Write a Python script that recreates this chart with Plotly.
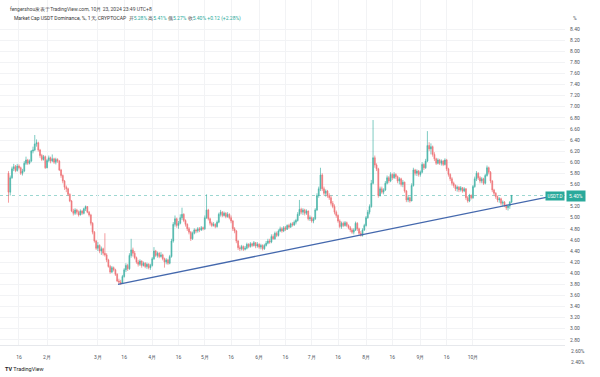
import pandas as pd
import plotly.graph_objects as go

# ---------------- data ----------------
START_DATE = "2024-01-10"
FIRST_OPEN = 5.80

CLOSE_JAN = [5.46, 5.72, 5.88, 5.92, 5.85, 5.93, 5.90, 5.80, 5.84, 5.98, 6.04, 5.98, 6.02, 6.20, 6.22, 6.33, 6.35, 6.22, 6.12, 6.05, 6.10, 5.90]
HIGH_JAN = [5.84, 5.76, 5.92, 5.97, 5.95, 5.97, 5.96, 5.92, 5.88, 6.02, 6.10, 6.06, 6.05, 6.22, 6.28, 6.49, 6.41, 6.37, 6.24, 6.15, 6.13, 6.12]
LOW_JAN = [5.27, 5.40, 5.70, 5.84, 5.82, 5.83, 5.87, 5.77, 5.76, 5.82, 5.95, 5.95, 5.96, 6.00, 6.16, 6.20, 6.28, 6.19, 6.08, 6.02, 6.03, 5.88]

CLOSE_FEB = [6.03, 6.08, 6.02, 6.06, 6.00, 6.05, 6.02, 5.86, 5.76, 5.66, 5.55, 5.52, 5.42, 5.30, 5.12, 5.08, 5.14, 5.10, 5.05, 5.12, 5.08, 5.16, 5.20, 5.10, 5.05, 4.90, 4.74, 4.58, 4.45]
HIGH_FEB = [6.06, 6.12, 6.10, 6.14, 6.08, 6.08, 6.07, 6.04, 5.88, 5.78, 5.68, 5.58, 5.54, 5.44, 5.32, 5.16, 5.17, 5.16, 5.13, 5.15, 5.14, 5.18, 5.22, 5.21, 5.12, 5.07, 4.92, 4.76, 4.60]
LOW_FEB = [5.89, 6.00, 5.98, 6.00, 5.97, 5.96, 5.99, 5.84, 5.72, 5.62, 5.50, 5.46, 5.39, 5.28, 5.10, 5.04, 5.05, 5.06, 5.02, 5.04, 5.05, 5.06, 5.12, 5.08, 5.02, 4.86, 4.70, 4.55, 4.42]

CLOSE_MAR = [4.50, 4.40, 4.44, 4.36, 4.33, 4.24, 4.12, 4.02, 4.10, 4.06, 3.98, 3.86, 3.84, 3.82, 3.94, 4.06, 4.14, 4.08, 4.32, 4.42, 4.36, 4.28, 4.20, 4.16, 4.22, 4.14, 4.18, 4.12, 4.16, 4.10, 4.14]
HIGH_MAR = [4.56, 4.52, 4.48, 4.46, 4.72, 4.36, 4.26, 4.15, 4.13, 4.12, 4.08, 4.00, 3.90, 3.88, 3.97, 4.09, 4.18, 4.17, 4.36, 4.62, 4.46, 4.40, 4.30, 4.24, 4.25, 4.23, 4.21, 4.20, 4.19, 4.18, 4.17]
LOW_MAR = [4.40, 4.36, 4.33, 4.32, 4.30, 4.20, 4.10, 3.99, 4.00, 4.03, 3.95, 3.84, 3.80, 3.79, 3.81, 3.92, 4.02, 4.04, 4.06, 4.28, 4.30, 4.25, 4.17, 4.12, 4.13, 4.10, 4.12, 4.09, 4.08, 4.07, 4.06]

CLOSE_APR = [4.26, 4.40, 4.32, 4.36, 4.30, 4.33, 4.26, 4.20, 4.24, 4.18, 4.30, 4.58, 4.88, 4.98, 4.86, 4.90, 5.00, 5.06, 4.95, 4.88, 4.80, 4.74, 4.62, 4.72, 4.78, 4.76, 4.80, 4.78, 4.82, 4.80]
HIGH_APR = [4.29, 4.47, 4.42, 4.39, 4.38, 4.38, 4.35, 4.28, 4.27, 4.26, 4.33, 4.62, 4.92, 5.04, 5.00, 4.94, 5.06, 5.18, 5.08, 4.97, 4.90, 4.83, 4.76, 4.75, 4.81, 4.80, 4.83, 4.83, 4.85, 4.84]
LOW_APR = [4.12, 4.24, 4.29, 4.28, 4.27, 4.28, 4.23, 4.10, 4.16, 4.15, 4.16, 4.28, 4.55, 4.84, 4.82, 4.80, 4.88, 4.96, 4.92, 4.84, 4.76, 4.70, 4.58, 4.60, 4.70, 4.72, 4.73, 4.74, 4.76, 4.77]

CLOSE_MAY = [5.00, 5.14, 4.98, 4.90, 4.86, 4.88, 4.84, 4.92, 5.06, 5.10, 5.04, 5.08, 5.02, 5.06, 5.00, 4.94, 4.80, 4.76, 4.58, 4.46, 4.44, 4.48, 4.43, 4.45, 4.52, 4.48, 4.53, 4.50, 4.55, 4.49, 4.52]
HIGH_MAY = [5.04, 5.42, 5.16, 5.00, 4.93, 4.92, 4.90, 4.95, 5.09, 5.14, 5.12, 5.11, 5.10, 5.10, 5.08, 5.04, 4.96, 4.83, 4.78, 4.60, 4.50, 4.51, 4.50, 4.49, 4.55, 4.54, 4.56, 4.55, 4.58, 4.56, 4.56]
LOW_MAY = [4.78, 4.98, 4.95, 4.86, 4.83, 4.84, 4.81, 4.82, 4.90, 5.02, 5.01, 5.02, 4.99, 5.00, 4.97, 4.90, 4.76, 4.72, 4.54, 4.42, 4.40, 4.41, 4.40, 4.41, 4.43, 4.45, 4.46, 4.47, 4.48, 4.45, 4.46]

CLOSE_JUN = [4.47, 4.50, 4.44, 4.50, 4.54, 4.58, 4.56, 4.66, 4.62, 4.72, 4.68, 4.76, 4.80, 4.76, 4.82, 4.79, 4.86, 4.83, 4.89, 4.87, 4.92, 4.95, 5.06, 5.15, 5.10, 5.14, 5.08, 5.12, 4.98, 5.00]
HIGH_JUN = [4.54, 4.53, 4.52, 4.53, 4.58, 4.62, 4.62, 4.70, 4.70, 4.75, 4.75, 4.79, 4.84, 4.83, 4.85, 4.85, 4.88, 4.89, 4.91, 4.92, 4.95, 4.98, 5.10, 5.32, 5.18, 5.17, 5.16, 5.15, 5.13, 5.04]
LOW_JUN = [4.44, 4.43, 4.41, 4.42, 4.48, 4.52, 4.53, 4.54, 4.60, 4.60, 4.65, 4.66, 4.74, 4.73, 4.74, 4.76, 4.78, 4.80, 4.82, 4.84, 4.85, 4.88, 4.93, 5.03, 5.06, 5.05, 5.04, 5.05, 4.95, 4.94]

CLOSE_JUL = [4.94, 4.98, 5.14, 5.40, 5.52, 5.77, 5.52, 5.44, 5.48, 5.40, 5.36, 5.26, 5.20, 5.10, 5.04, 4.94, 4.84, 4.90, 4.86, 4.91, 4.86, 4.82, 4.78, 4.74, 4.78, 4.90, 4.80, 4.72, 4.68, 4.78, 4.86]
HIGH_JUL = [5.02, 5.01, 5.17, 5.44, 5.56, 5.90, 5.80, 5.56, 5.51, 5.50, 5.44, 5.40, 5.30, 5.24, 5.13, 5.06, 4.97, 4.93, 4.93, 4.94, 4.93, 4.88, 4.85, 4.81, 4.81, 4.93, 4.92, 4.82, 4.76, 4.81, 4.89]
LOW_JUL = [4.91, 4.90, 4.96, 5.12, 5.36, 5.48, 5.48, 5.40, 5.38, 5.36, 5.32, 5.22, 5.17, 5.06, 5.00, 4.91, 4.81, 4.80, 4.83, 4.84, 4.83, 4.79, 4.74, 4.71, 4.70, 4.76, 4.76, 4.69, 4.66, 4.66, 4.76]

CLOSE_AUG = [5.00, 5.10, 5.20, 5.62, 6.08, 5.95, 5.88, 5.40, 5.52, 5.46, 5.50, 5.62, 5.72, 5.66, 5.78, 5.72, 5.78, 5.74, 5.66, 5.70, 5.60, 5.64, 5.48, 5.32, 5.36, 5.30, 5.58, 5.86, 5.80, 5.84, 5.78]
HIGH_AUG = [5.03, 5.14, 5.24, 5.68, 6.76, 6.12, 5.98, 5.90, 5.56, 5.56, 5.53, 5.66, 5.76, 5.75, 5.82, 5.80, 5.82, 5.80, 5.76, 5.73, 5.72, 5.68, 5.65, 5.50, 5.40, 5.38, 5.62, 5.90, 5.88, 5.87, 5.86]
LOW_AUG = [4.84, 4.98, 5.06, 5.18, 5.60, 5.90, 5.84, 5.36, 5.38, 5.43, 5.42, 5.48, 5.60, 5.62, 5.64, 5.68, 5.70, 5.70, 5.62, 5.60, 5.56, 5.55, 5.45, 5.28, 5.28, 5.27, 5.30, 5.56, 5.76, 5.75, 5.74]

CLOSE_SEP = [5.82, 5.96, 5.90, 6.02, 6.30, 6.24, 6.28, 6.14, 6.06, 5.98, 6.04, 5.98, 6.02, 5.96, 6.04, 5.88, 5.78, 5.70, 5.62, 5.58, 5.52, 5.55, 5.50, 5.54, 5.48, 5.52, 5.36, 5.30, 5.40, 5.36]
HIGH_SEP = [5.85, 6.00, 5.98, 6.06, 6.56, 6.36, 6.34, 6.30, 6.18, 6.08, 6.07, 6.06, 6.05, 6.04, 6.07, 6.06, 5.90, 5.80, 5.73, 5.65, 5.60, 5.58, 5.57, 5.57, 5.55, 5.55, 5.53, 5.39, 5.43, 5.42]
LOW_SEP = [5.74, 5.80, 5.86, 5.88, 6.00, 6.20, 6.14, 6.10, 6.02, 5.95, 5.96, 5.95, 5.94, 5.93, 5.94, 5.84, 5.74, 5.66, 5.58, 5.54, 5.48, 5.47, 5.46, 5.47, 5.45, 5.46, 5.32, 5.27, 5.28, 5.33]

CLOSE_OCT = [5.56, 5.70, 5.80, 5.72, 5.66, 5.70, 5.62, 5.76, 5.90, 5.82, 5.66, 5.50, 5.44, 5.38, 5.32, 5.34, 5.26, 5.28, 5.22, 5.18, 5.21, 5.28, 5.40]
HIGH_OCT = [5.59, 5.74, 5.84, 5.82, 5.75, 5.73, 5.72, 5.79, 5.94, 5.92, 5.84, 5.68, 5.52, 5.46, 5.40, 5.37, 5.36, 5.31, 5.30, 5.24, 5.24, 5.30, 5.41]
LOW_OCT = [5.34, 5.54, 5.66, 5.68, 5.62, 5.62, 5.59, 5.60, 5.74, 5.78, 5.62, 5.46, 5.40, 5.34, 5.28, 5.27, 5.22, 5.20, 5.19, 5.14, 5.13, 5.16, 5.27]

TREND_DATES = ["2024-03-12 12:00", "2024-11-13 21:00"]
TREND_VALUES = [3.80, 5.38]

LAST_PRICE = 5.40
LAST_PRICE_TEXT = "5.40%"

X_TICK_DATES = ["2024-01-16", "2024-02-01", "2024-03-01", "2024-03-16", "2024-04-01", "2024-04-16",
                "2024-05-01", "2024-05-16", "2024-06-01", "2024-06-16", "2024-07-01", "2024-07-16",
                "2024-08-01", "2024-08-16", "2024-09-01", "2024-09-16", "2024-10-01"]
X_TICK_TEXT = ["16", "2月", "3月", "16", "4月", "16", "5月", "16", "6月", "16", "7月", "16",
               "8月", "16", "9月", "16", "10月"]
# 5.40% is hidden behind the last-price tag in the reference
Y_TICKS = [2.8, 3.0, 3.2, 3.4, 3.6, 3.8, 4.0, 4.2, 4.4, 4.6, 4.8, 5.0, 5.2, 5.6, 5.8,
           6.0, 6.2, 6.4, 6.6, 6.8, 7.0, 7.2, 7.4, 7.6, 7.8, 8.0, 8.2, 8.4]
Y_TICKS_BELOW = [2.6, 2.4]

HEADER_1 = "fengershou发表于TradingView.com, 10月 23, 2024 23:49 UTC+8"
HEADER_2_NAME = "Market Cap USDT Dominance, %, 1天, CRYPTOCAP"
OHLC_LABELS = ["开", "高", "低", "收"]
OHLC_VALUES = ["5.28%", "5.41%", "5.27%", "5.40%"]
CHANGE_TEXT = "+0.12 (+2.28%)"

# ---------------- assemble ----------------
closes = (CLOSE_JAN + CLOSE_FEB + CLOSE_MAR + CLOSE_APR + CLOSE_MAY + CLOSE_JUN +
          CLOSE_JUL + CLOSE_AUG + CLOSE_SEP + CLOSE_OCT)
highs = (HIGH_JAN + HIGH_FEB + HIGH_MAR + HIGH_APR + HIGH_MAY + HIGH_JUN +
         HIGH_JUL + HIGH_AUG + HIGH_SEP + HIGH_OCT)
lows = (LOW_JAN + LOW_FEB + LOW_MAR + LOW_APR + LOW_MAY + LOW_JUN +
        LOW_JUL + LOW_AUG + LOW_SEP + LOW_OCT)
opens = [FIRST_OPEN] + closes[:-1]
dates = pd.date_range(START_DATE, periods=len(closes), freq="D")

GREEN = "#2aa99b"
RED = "#ec5d62"
TEXT = "#505560"
FONT = "Roboto, Liberation Sans, Arial, sans-serif"

W, H = 600, 377
M_L, M_R, M_T, M_B = 0, 35, 0, 32
PLOT_W = W - M_L - M_R
PLOT_H = H - M_T - M_B
Y_RANGE = [2.7063, 8.9225]
X_RANGE = ["2024-01-05 04:00", "2024-11-22 12:00"]

fig = go.Figure()

fig.add_trace(go.Candlestick(
    x=dates, open=opens, high=highs, low=lows, close=closes,
    increasing=dict(line=dict(color=GREEN, width=0.7), fillcolor=GREEN),
    decreasing=dict(line=dict(color=RED, width=0.7), fillcolor=RED),
    whiskerwidth=0, opacity=0.85, hoverinfo="skip", showlegend=False,
))

# trend line
fig.add_trace(go.Scatter(
    x=TREND_DATES, y=TREND_VALUES, mode="lines",
    line=dict(color="#4468ad", width=1.3), hoverinfo="skip", showlegend=False,
))

# last price dotted line
fig.add_shape(type="line", xref="paper", x0=0, x1=1, yref="y", y0=LAST_PRICE, y1=LAST_PRICE,
              line=dict(color="rgba(38,166,154,0.45)", width=1, dash="dot"), layer="below")


def ypix_to_paper(p):
    return (H - M_B - p) / PLOT_H


def val_to_paper(v):
    return (v - Y_RANGE[0]) / (Y_RANGE[1] - Y_RANGE[0])


ann = []
ann.append(dict(text=HEADER_1, xref="paper", yref="paper", x=8 / PLOT_W, y=ypix_to_paper(9),
                xanchor="left", yanchor="middle", showarrow=False,
                font=dict(size=5, color="#444", family=FONT)))
ohlc = " ".join(f"<span style='color:#444'>{l}</span><span style='color:{GREEN}'>{v}</span>"
                for l, v in zip(OHLC_LABELS, OHLC_VALUES))
ann.append(dict(text=f"<span style='color:#333'>{HEADER_2_NAME}</span>  {ohlc} "
                     f"<span style='color:{GREEN}'>{CHANGE_TEXT}</span>",
                xref="paper", yref="paper", x=12 / PLOT_W, y=ypix_to_paper(19),
                xanchor="left", yanchor="middle", showarrow=False,
                font=dict(size=5, color="#333", family=FONT)))
ann.append(dict(text="%", xref="paper", yref="paper", x=571 / PLOT_W, y=ypix_to_paper(18),
                xanchor="left", yanchor="middle", showarrow=False,
                font=dict(size=5, color=TEXT, family=FONT)))
for v in Y_TICKS_BELOW:
    ann.append(dict(text=f"{v:.2f}%", xref="paper", yref="paper", x=569 / PLOT_W, y=val_to_paper(v),
                    xanchor="left", yanchor="middle", showarrow=False,
                    font=dict(size=5, color=TEXT, family=FONT)))
# symbol tag + price tag
ann.append(dict(text="USDT.D", xref="paper", yref="y", x=565 / PLOT_W, y=LAST_PRICE,
                xanchor="right", yanchor="middle", showarrow=False, bgcolor=GREEN,
                borderpad=1.5, font=dict(size=4.5, color="white", family=FONT)))
ann.append(dict(text=LAST_PRICE_TEXT, xref="paper", yref="y", x=566 / PLOT_W, y=LAST_PRICE,
                xanchor="left", yanchor="middle", showarrow=False, bgcolor=GREEN,
                borderpad=2, font=dict(size=5, color="white", family=FONT)))
# TradingView logo text
ann.append(dict(text="<b>TV</b> TradingView", xref="paper", yref="paper", x=3 / PLOT_W,
                y=ypix_to_paper(369), xanchor="left", yanchor="middle", showarrow=False,
                font=dict(size=5.5, color="#222", family=FONT)))

fig.update_layout(
    width=W, height=H,
    margin=dict(l=M_L, r=M_R, t=M_T, b=M_B),
    paper_bgcolor="white", plot_bgcolor="white",
    showlegend=False, hovermode=False,
    font=dict(family=FONT, size=5, color=TEXT),
    annotations=ann,
    xaxis=dict(
        type="date", range=X_RANGE, rangeslider=dict(visible=False),
        tickvals=X_TICK_DATES, ticktext=X_TICK_TEXT,
        showgrid=True, gridcolor="#f2f3f5", gridwidth=1,
        showline=True, linecolor="#e6e8ec", linewidth=1,
        ticks="", ticklabelstandoff=7, zeroline=False,
        tickfont=dict(size=5, color=TEXT, family=FONT),
    ),
    yaxis=dict(
        side="right", range=Y_RANGE, tickvals=Y_TICKS, tickformat=".2f", ticksuffix="%",
        showgrid=True, gridcolor="#f2f3f5", gridwidth=1, zeroline=False,
        ticks="", ticklabelstandoff=4, showline=False,
        tickfont=dict(size=5, color=TEXT, family=FONT),
    ),
)

# remove the browser's default 8px body margin so the 600x377 figure fills the window
fig.write_html("out.html", config={"displayModeBar": False, "staticPlot": True},
               post_script="document.body.style.margin='0';")
